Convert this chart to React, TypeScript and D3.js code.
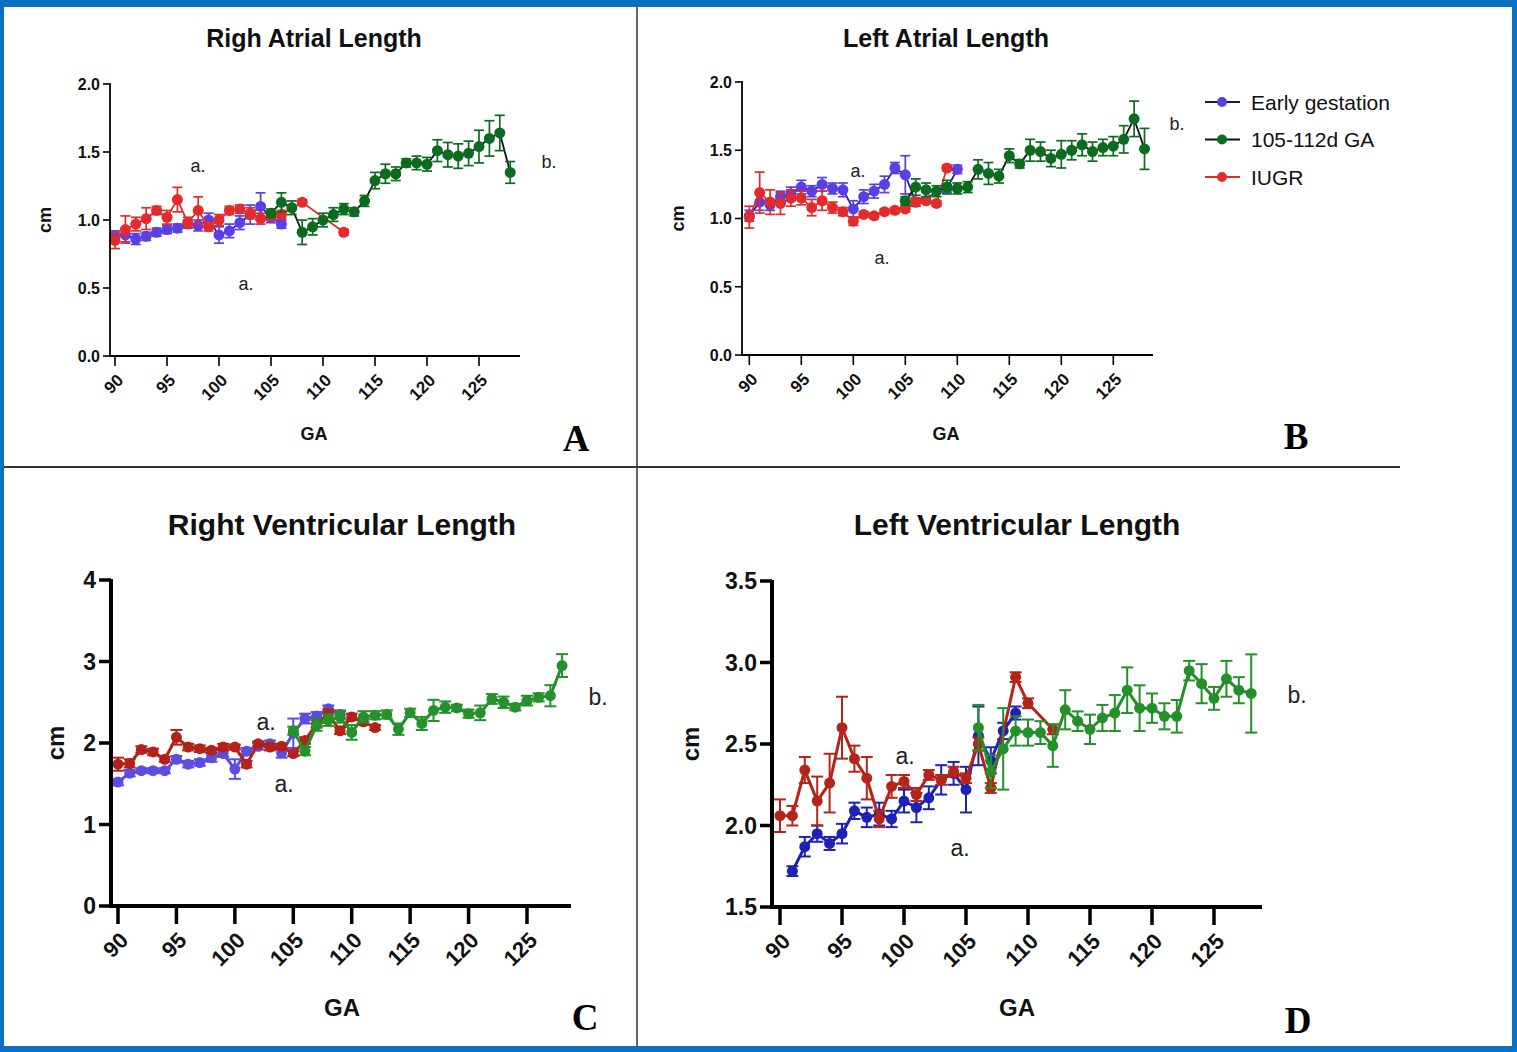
import React from "react";
import * as d3 from "d3";

type Pt = [number, number, number]; // GA day, mean (cm), error

// ---- A: right atrial length
const raEarly: Pt[] = [[90,0.88,0.04],[91,0.89,0.05],[92,0.86,0.04],[93,0.88,0.03],[94,0.91,0.03],[95,0.93,0.03],[96,0.94,0.03],[97,0.97,0.03],[98,0.96,0.04],[99,1.0,0.05],[100,0.89,0.06],[101,0.92,0.05],[102,0.98,0.05],[103,1.04,0.07],[104,1.1,0.1],[105,1.02,0.04],[106,0.97,0.03]];
const raIugr: Pt[] = [[90,0.85,0.06],[91,0.93,0.1],[92,0.97,0.05],[93,1.01,0.08],[94,1.07,0.03],[95,1.02,0.05],[96,1.15,0.09],[97,0.98,0.04],[98,1.07,0.1],[99,0.95,0.03],[100,1.0,0.04],[101,1.07,0.03],[102,1.08,0.03],[103,1.05,0.04],[104,1.01,0.04],[105,1.03,0.03],[106,1.04,0.03],[108,1.13,0.02],[112,0.91,0.02]];
const raTerm: Pt[] = [[105,1.05,0.03],[106,1.13,0.07],[107,1.09,0.05],[108,0.91,0.09],[109,0.95,0.06],[110,1.0,0.05],[111,1.04,0.05],[112,1.08,0.04],[113,1.06,0.03],[114,1.14,0.04],[115,1.29,0.06],[116,1.34,0.07],[117,1.34,0.05],[118,1.42,0.03],[119,1.42,0.05],[120,1.41,0.05],[121,1.51,0.08],[122,1.48,0.09],[123,1.47,0.09],[124,1.49,0.09],[125,1.54,0.12],[126,1.6,0.13],[127,1.64,0.13],[128,1.35,0.08]];

// ---- B: left atrial length
const laEarly: Pt[] = [[90,1.02,0.04],[91,1.12,0.06],[92,1.1,0.04],[93,1.16,0.04],[94,1.18,0.05],[95,1.23,0.05],[96,1.2,0.04],[97,1.25,0.05],[98,1.22,0.04],[99,1.21,0.05],[100,1.07,0.06],[101,1.16,0.05],[102,1.2,0.05],[103,1.25,0.06],[104,1.37,0.04],[105,1.32,0.14],[106,1.12,0.03],[109,1.22,0.03],[110,1.36,0.03]];
const laIugr: Pt[] = [[90,1.01,0.08],[91,1.19,0.15],[92,1.12,0.09],[93,1.11,0.08],[94,1.15,0.06],[95,1.15,0.05],[96,1.08,0.06],[97,1.13,0.07],[98,1.08,0.04],[99,1.05,0.03],[100,0.98,0.03],[101,1.03,0.02],[102,1.02,0.02],[103,1.05,0.02],[104,1.06,0.02],[105,1.07,0.02],[106,1.12,0.03],[107,1.13,0.02],[108,1.11,0.02],[109,1.37,0.02]];
const laTerm: Pt[] = [[105,1.13,0.03],[106,1.23,0.06],[107,1.21,0.05],[108,1.2,0.04],[109,1.23,0.05],[110,1.22,0.04],[111,1.23,0.04],[112,1.36,0.07],[113,1.33,0.08],[114,1.31,0.05],[115,1.46,0.05],[116,1.4,0.03],[117,1.5,0.08],[118,1.49,0.07],[119,1.44,0.06],[120,1.47,0.1],[121,1.5,0.07],[122,1.54,0.08],[123,1.49,0.07],[124,1.52,0.06],[125,1.53,0.07],[126,1.58,0.1],[127,1.73,0.13],[128,1.51,0.15]];

// ---- C: right ventricular length
const rvEarly: Pt[] = [[90,1.52,0.04],[91,1.63,0.04],[92,1.66,0.03],[93,1.66,0.03],[94,1.66,0.03],[95,1.8,0.04],[96,1.74,0.04],[97,1.76,0.04],[98,1.82,0.05],[99,1.87,0.04],[100,1.68,0.12],[101,1.9,0.04],[102,1.96,0.04],[103,1.99,0.04],[104,1.88,0.06],[105,2.12,0.18],[106,2.3,0.06],[107,2.33,0.05],[108,2.42,0.04],[109,2.35,0.05]];
const rvIugr: Pt[] = [[90,1.74,0.08],[91,1.75,0.05],[92,1.92,0.04],[93,1.89,0.04],[94,1.8,0.03],[95,2.07,0.09],[96,1.95,0.04],[97,1.93,0.04],[98,1.91,0.03],[99,1.95,0.04],[100,1.95,0.03],[101,1.74,0.04],[102,1.99,0.03],[103,1.95,0.04],[104,1.96,0.03],[105,1.87,0.03],[106,2.03,0.04],[107,2.24,0.05],[108,2.36,0.05],[109,2.15,0.04],[110,2.32,0.04],[111,2.26,0.04],[112,2.19,0.03]];
const rvTerm: Pt[] = [[105,2.15,0.05],[106,1.9,0.05],[107,2.22,0.07],[108,2.28,0.07],[109,2.32,0.07],[110,2.13,0.09],[111,2.32,0.07],[112,2.34,0.05],[113,2.35,0.05],[114,2.17,0.07],[115,2.37,0.05],[116,2.24,0.08],[117,2.4,0.13],[118,2.44,0.07],[119,2.43,0.04],[120,2.36,0.05],[121,2.37,0.09],[122,2.54,0.06],[123,2.5,0.07],[124,2.44,0.04],[125,2.52,0.06],[126,2.56,0.05],[127,2.58,0.13],[128,2.95,0.14]];

// ---- D: left ventricular length
const lvEarly: Pt[] = [[91,1.72,0.03],[92,1.87,0.06],[93,1.95,0.05],[94,1.89,0.04],[95,1.95,0.06],[96,2.09,0.05],[97,2.05,0.06],[98,2.07,0.07],[99,2.04,0.05],[100,2.15,0.07],[101,2.11,0.09],[102,2.17,0.07],[103,2.28,0.09],[104,2.32,0.07],[105,2.22,0.14],[106,2.55,0.18],[107,2.4,0.08],[108,2.58,0.05],[109,2.69,0.04]];
const lvIugr: Pt[] = [[90,2.06,0.1],[91,2.06,0.06],[92,2.34,0.08],[93,2.15,0.15],[94,2.26,0.18],[95,2.6,0.19],[96,2.41,0.08],[97,2.29,0.13],[98,2.04,0.05],[99,2.24,0.07],[100,2.27,0.04],[101,2.19,0.04],[102,2.31,0.03],[103,2.28,0.03],[104,2.33,0.03],[105,2.29,0.03],[106,2.5,0.04],[107,2.23,0.03],[109,2.91,0.03],[110,2.75,0.03],[112,2.59,0.03]];
const lvTerm: Pt[] = [[106,2.6,0.14],[107,2.33,0.1],[108,2.47,0.25],[109,2.58,0.09],[110,2.57,0.08],[111,2.57,0.07],[112,2.49,0.13],[113,2.71,0.12],[114,2.64,0.06],[115,2.59,0.09],[116,2.66,0.08],[117,2.69,0.11],[118,2.83,0.14],[119,2.72,0.14],[120,2.72,0.09],[121,2.67,0.08],[122,2.67,0.1],[123,2.95,0.06],[124,2.87,0.12],[125,2.78,0.07],[126,2.9,0.11],[127,2.83,0.08],[128,2.81,0.24]];

const gaTicks = [90, 95, 100, 105, 110, 115, 120, 125];
const atrialTicks = [0, 0.5, 1.0, 1.5, 2.0];
const rvTicks = [0, 1, 2, 3, 4];
const lvTicks = [1.5, 2.0, 2.5, 3.0, 3.5];
const legendNames = ["Early gestation", "105-112d GA", "IUGR"];

const SANS = "'Liberation Sans', Arial, sans-serif";
const SERIF = "'Liberation Serif', 'Times New Roman', serif";

const Panel = ({ p }) => {
  const { x, y, x0, x1, heavy } = p;
  const y0 = y.range()[0];
  const y1 = y.range()[1];
  const axW = heavy ? 4 : 1.8;
  const xTickLen = heavy ? 18 : 10;
  const yTickLen = heavy ? 12 : 7;
  const r = 5.5;
  const cap = heavy ? 6 : 5;
  const line = d3.line<Pt>().x((d) => x(d[0])).y((d) => y(d[1]));
  return (
    <g>
      <text x={p.titleX} y={p.titleY} dy="0.36em" textAnchor="middle" fontFamily={SANS} fontWeight="bold" fontSize={p.titleSize} fill="#111">{p.title}</text>
      {p.series.map((s, i) => (
        <g key={i}>
          <path d={line(s.data)} fill="none" stroke={s.line} strokeWidth={heavy ? 3 : 1.8} />
          {s.data.map((d, j) => (
            <g key={j} stroke={s.color} strokeWidth={heavy ? 2 : 1.7}>
              <line x1={x(d[0])} x2={x(d[0])} y1={y(d[1] - d[2])} y2={y(d[1] + d[2])} />
              <line x1={x(d[0]) - cap} x2={x(d[0]) + cap} y1={y(d[1] + d[2])} y2={y(d[1] + d[2])} />
              <line x1={x(d[0]) - cap} x2={x(d[0]) + cap} y1={y(d[1] - d[2])} y2={y(d[1] - d[2])} />
              <circle cx={x(d[0])} cy={y(d[1])} r={r} fill={s.color} stroke="none" />
            </g>
          ))}
        </g>
      ))}
      {/* axes */}
      <line x1={x0} x2={x0} y1={y1 - 1} y2={y0 + axW / 2} stroke="#000" strokeWidth={axW} />
      <line x1={x0 - axW / 2} x2={x1} y1={y0} y2={y0} stroke="#000" strokeWidth={axW} />
      {p.yTicks.map((t) => (
        <g key={t}>
          <line x1={x0 - yTickLen} x2={x0} y1={y(t)} y2={y(t)} stroke="#000" strokeWidth={heavy ? 3.5 : 1.6} />
          <text x={x0 - yTickLen - 3} y={y(t)} dy="0.36em" textAnchor="end" fontFamily={SANS} fontWeight="bold" fontSize={heavy ? 23 : 16} fill="#111">{p.yFmt(t)}</text>
        </g>
      ))}
      {gaTicks.map((t) => (
        <g key={t}>
          <line x1={x(t)} x2={x(t)} y1={y0} y2={y0 + xTickLen} stroke="#000" strokeWidth={heavy ? 3.5 : 1.6} />
          <text transform={`translate(${x(t) + (heavy ? 6 : 5)},${y0 + xTickLen + (heavy ? 12 : 11)}) rotate(-45)`} dy="0.36em" textAnchor="end" fontFamily={SANS} fontWeight="bold" fontSize={heavy ? 22 : 17} fill="#111">{t}</text>
        </g>
      ))}
      <text x={p.titleX} y={p.gaY} dy="0.36em" textAnchor="middle" fontFamily={SANS} fontWeight="bold" fontSize={heavy ? 24 : 18} fill="#111">GA</text>
      <text transform={`translate(${p.cmX},${y((p.yTicks[0] + p.yTicks[4]) / 2)}) rotate(-90)`} dy="0.36em" textAnchor="middle" fontFamily={SANS} fontWeight="bold" fontSize={heavy ? 24 : 18} fill="#111">cm</text>
      {p.notes.map((n, i) => (
        <text key={i} x={n[0]} y={n[1]} dy="0.36em" textAnchor="middle" fontFamily={SANS} fontSize={heavy ? 23 : 18} fill="#222">{n[2]}</text>
      ))}
      <text x={p.letter[0]} y={p.letter[1]} dy="0.36em" textAnchor="middle" fontFamily={SERIF} fontWeight="bold" fontSize={37} fill="#000">{p.letter[2]}</text>
    </g>
  );
};

export default function App() {
  const f1 = d3.format(".1f");
  const f0 = d3.format("d");
  const blueAB = "#5a3ee6", greenAB = "#0b6b1f", redAB = "#e32b2b";
  const panels = [
    {
      title: "Righ Atrial Length", titleX: 314, titleY: 38, titleSize: 25,
      x: d3.scaleLinear().domain([90, 125]).range([115, 479]), x0: 110, x1: 520,
      y: d3.scaleLinear().domain([0, 2]).range([356, 84]), yTicks: atrialTicks, yFmt: f1,
      heavy: false, gaY: 434, cmX: 45,
      series: [
        { data: raEarly, color: blueAB, line: "#2b2470" },
        { data: raIugr, color: redAB, line: redAB },
        { data: raTerm, color: greenAB, line: "#111" },
      ],
      notes: [[198, 166, "a."], [246, 284, "a."], [549, 162, "b."]],
      letter: [576, 438, "A"],
    },
    {
      title: "Left Atrial Length", titleX: 946, titleY: 38, titleSize: 25,
      x: d3.scaleLinear().domain([90, 125]).range([749.3, 1113.3]), x0: 742, x1: 1153,
      y: d3.scaleLinear().domain([0, 2]).range([355, 82]), yTicks: atrialTicks, yFmt: f1,
      heavy: false, gaY: 434, cmX: 678,
      series: [
        { data: laEarly, color: blueAB, line: "#2b2470" },
        { data: laIugr, color: redAB, line: redAB },
        { data: laTerm, color: greenAB, line: "#111" },
      ],
      notes: [[858, 171, "a."], [882, 258, "a."], [1177, 124, "b."]],
      letter: [1296, 436, "B"],
    },
    {
      title: "Right Ventricular Length", titleX: 342, titleY: 524, titleSize: 30,
      x: d3.scaleLinear().domain([90, 125]).range([118, 527]), x0: 111, x1: 571,
      y: d3.scaleLinear().domain([0, 4]).range([906, 580]), yTicks: rvTicks, yFmt: f0,
      heavy: true, gaY: 1007, cmX: 55,
      series: [
        { data: rvEarly, color: "#5b4de0", line: "#5b4de0" },
        { data: rvIugr, color: "#b3221a", line: "#b3221a" },
        { data: rvTerm, color: "#24912a", line: "#24912a" },
      ],
      notes: [[266, 722, "a."], [284, 784, "a."], [598, 697, "b."]],
      letter: [585, 1017, "C"],
    },
    {
      title: "Left Ventricular Length", titleX: 1017, titleY: 524, titleSize: 30,
      x: d3.scaleLinear().domain([90, 125]).range([780, 1214]), x0: 772, x1: 1262,
      y: d3.scaleLinear().domain([1.5, 3.5]).range([907, 581]), yTicks: lvTicks, yFmt: f1,
      heavy: true, gaY: 1007, cmX: 690,
      series: [
        { data: lvEarly, color: "#1b22b5", line: "#1b22b5" },
        { data: lvIugr, color: "#b42418", line: "#b42418" },
        { data: lvTerm, color: "#23902a", line: "#23902a" },
      ],
      notes: [[905, 756, "a."], [960, 848, "a."], [1297, 695, "b."]],
      letter: [1298, 1020, "D"],
    },
  ];
  const legend = [
    { name: legendNames[0], color: blueAB, line: "#1c1c3c" },
    { name: legendNames[1], color: greenAB, line: "#111" },
    { name: legendNames[2], color: redAB, line: redAB },
  ];
  return (
    <svg width={1517} height={1052} style={{ position: "absolute", left: 0, top: 0, display: "block", background: "#fff" }}>
      {/* frame */}
      <rect x={0} y={0} width={1517} height={1052} fill="#0a70c2" />
      <rect x={4} y={7} width={1508} height={1039} fill="#fff" />
      <line x1={637} x2={637} y1={7} y2={1046} stroke="#333" strokeWidth={1.5} />
      <line x1={4} x2={1400} y1={467} y2={467} stroke="#333" strokeWidth={2} />
      {panels.map((p, i) => <Panel key={i} p={p} />)}
      {legend.map((l, i) => (
        <g key={i} transform={`translate(0,${102 + i * 37.5})`}>
          <line x1={1205} x2={1240} y1={0} y2={0} stroke={l.line} strokeWidth={1.8} />
          <circle cx={1222} cy={0} r={5} fill={l.color} />
          <text x={1251} y={0} dy="0.36em" fontFamily={SANS} fontSize={21} fill="#111">{l.name}</text>
        </g>
      ))}
    </svg>
  );
}
